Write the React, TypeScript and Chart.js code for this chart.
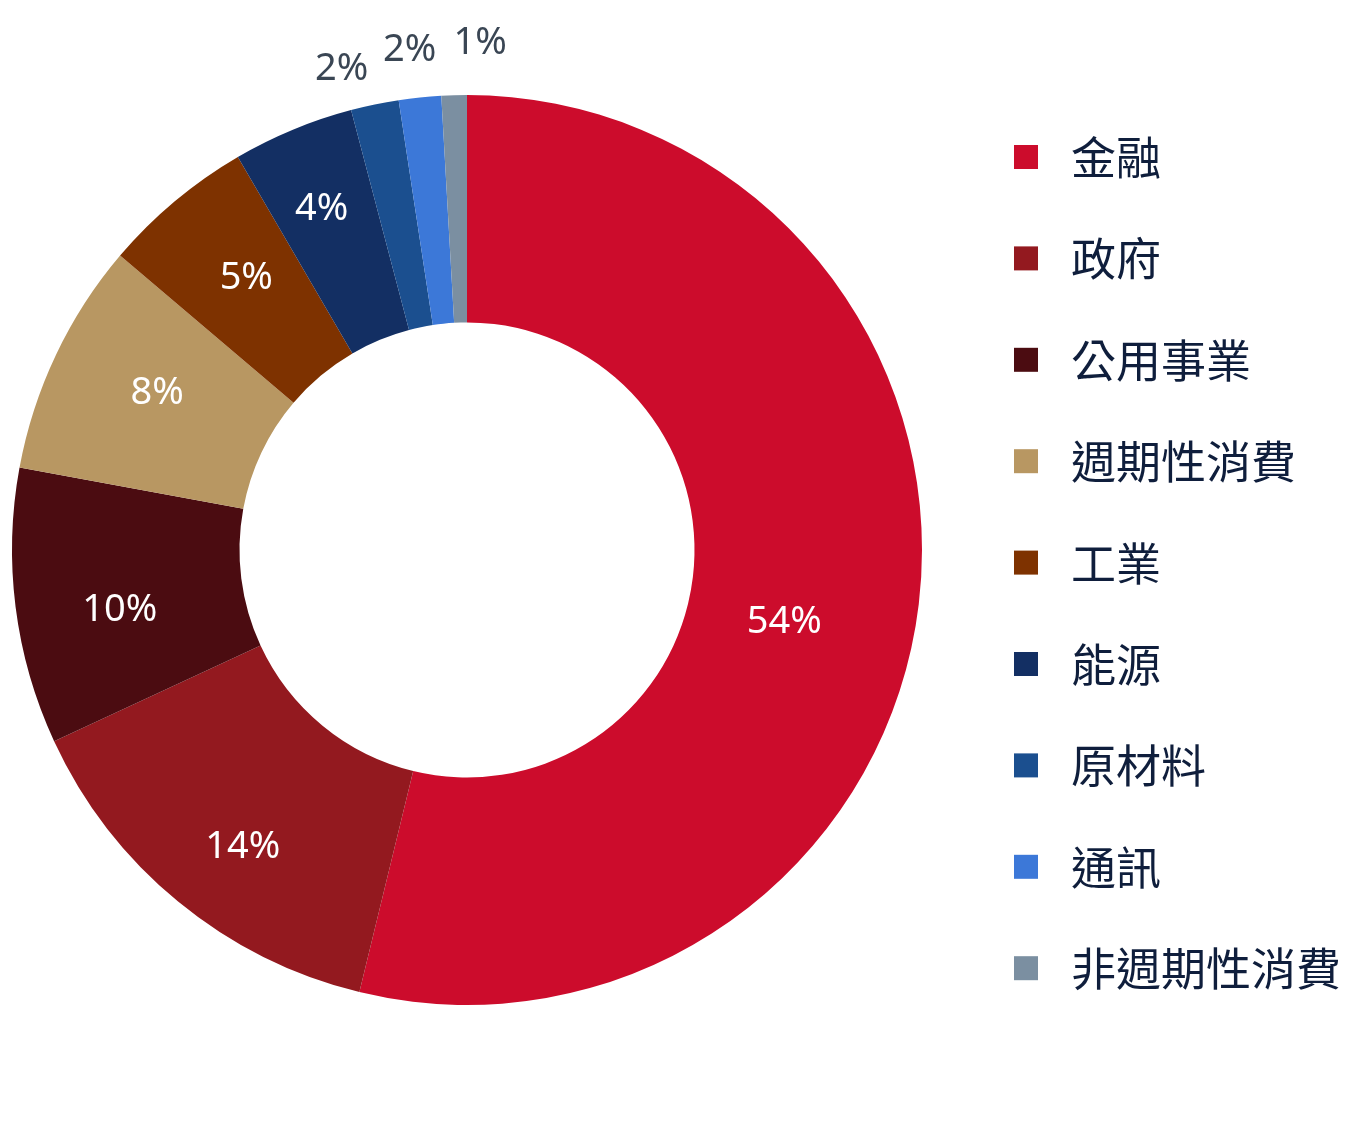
import React, { useEffect, useRef } from "react";
import { Chart, registerables } from "chart.js";

Chart.register(...registerables);

const categories = ["金融", "政府", "公用事業", "週期性消費", "工業", "能源", "原材料", "通訊", "非週期性消費"];
const values = [53.8, 14.3, 9.8, 8.3, 5.4, 4.3, 1.7, 1.5, 0.9];
const percentLabels = ["54%", "14%", "10%", "8%", "5%", "4%", "2%", "2%", "1%"];
const outsideLabel = [false, false, false, false, false, false, true, true, true];
// small label nudges (degrees along the ring, pixels outward), like the spreadsheet's label placement
const labelAngleShift = [5.9, -2.4, -2.6, 1.5, 0.9, -0.6, -2.9, -0.6, 3.1];
const labelRadiusShift = [-16, 31, 11, 6, 9, 29, 42, 48, 52];
const colors = ["#CC0C2C", "#93191F", "#4B0C11", "#B89762", "#7E3200", "#132F63", "#1B4F8F", "#3C78D8", "#7B8FA1"];

const labelPlugin = {
  id: "sliceLabels",
  afterDatasetsDraw(chart: any) {
    const ctx = chart.ctx;
    const meta = chart.getDatasetMeta(0);
    ctx.save();
    ctx.font = "38px 'Noto Sans', 'Open Sans', sans-serif";
    ctx.textAlign = "center";
    ctx.textBaseline = "middle";
    meta.data.forEach((arc: any, i: number) => {
      const { x, y, startAngle, endAngle, innerRadius, outerRadius } = arc.getProps(
        ["x", "y", "startAngle", "endAngle", "innerRadius", "outerRadius"],
        true
      );
      const mid = (startAngle + endAngle) / 2 + (labelAngleShift[i] * Math.PI) / 180;
      let r: number;
      if (outsideLabel[i]) {
        r = outerRadius + labelRadiusShift[i];
        ctx.fillStyle = "#3A4654";
      } else {
        r = (innerRadius + outerRadius) / 2 + labelRadiusShift[i];
        ctx.fillStyle = "#FFFFFF";
      }
      ctx.fillText(percentLabels[i], x + Math.cos(mid) * r, y + Math.sin(mid) * r);
    });
    ctx.restore();
  },
};

const legendPlugin = {
  id: "sideLegend",
  afterDraw(chart: any) {
    const ctx = chart.ctx;
    const left = chart.chartArea.right + 92;
    const top = 157;
    const step = 101.4;
    ctx.save();
    ctx.font = "45px 'Noto Sans CJK TC', 'Noto Sans CJK SC', sans-serif";
    ctx.textAlign = "left";
    ctx.textBaseline = "middle";
    categories.forEach((name, i) => {
      const cy = top + i * step;
      ctx.fillStyle = colors[i];
      ctx.fillRect(left, cy - 12, 24, 24);
      ctx.fillStyle = "#0F1E3C";
      ctx.fillText(name, left + 57, cy + 1);
    });
    ctx.restore();
  },
};

export default function App() {
  const canvasRef = useRef<HTMLCanvasElement>(null);

  useEffect(() => {
    if (!canvasRef.current) return;
    const chart = new Chart(canvasRef.current, {
      type: "doughnut",
      data: {
        labels: categories,
        datasets: [
          {
            data: values,
            backgroundColor: colors,
            borderWidth: 0,
          },
        ],
      },
      options: {
        animation: false,
        responsive: false,
        maintainAspectRatio: false,
        cutout: "50%",
        layout: { padding: { left: 12, right: 428, top: 95, bottom: 122 } },
        plugins: {
          legend: { display: false },
          tooltip: { enabled: false },
        },
      },
      plugins: [labelPlugin, legendPlugin],
    });
    return () => chart.destroy();
  }, []);

  return (
    <div style={{ position: "absolute", left: 0, top: 0, width: 1350, height: 1127, background: "#fff" }}>
      <canvas ref={canvasRef} width={1350} height={1127} style={{ width: 1350, height: 1127, display: "block" }} />
    </div>
  );
}
